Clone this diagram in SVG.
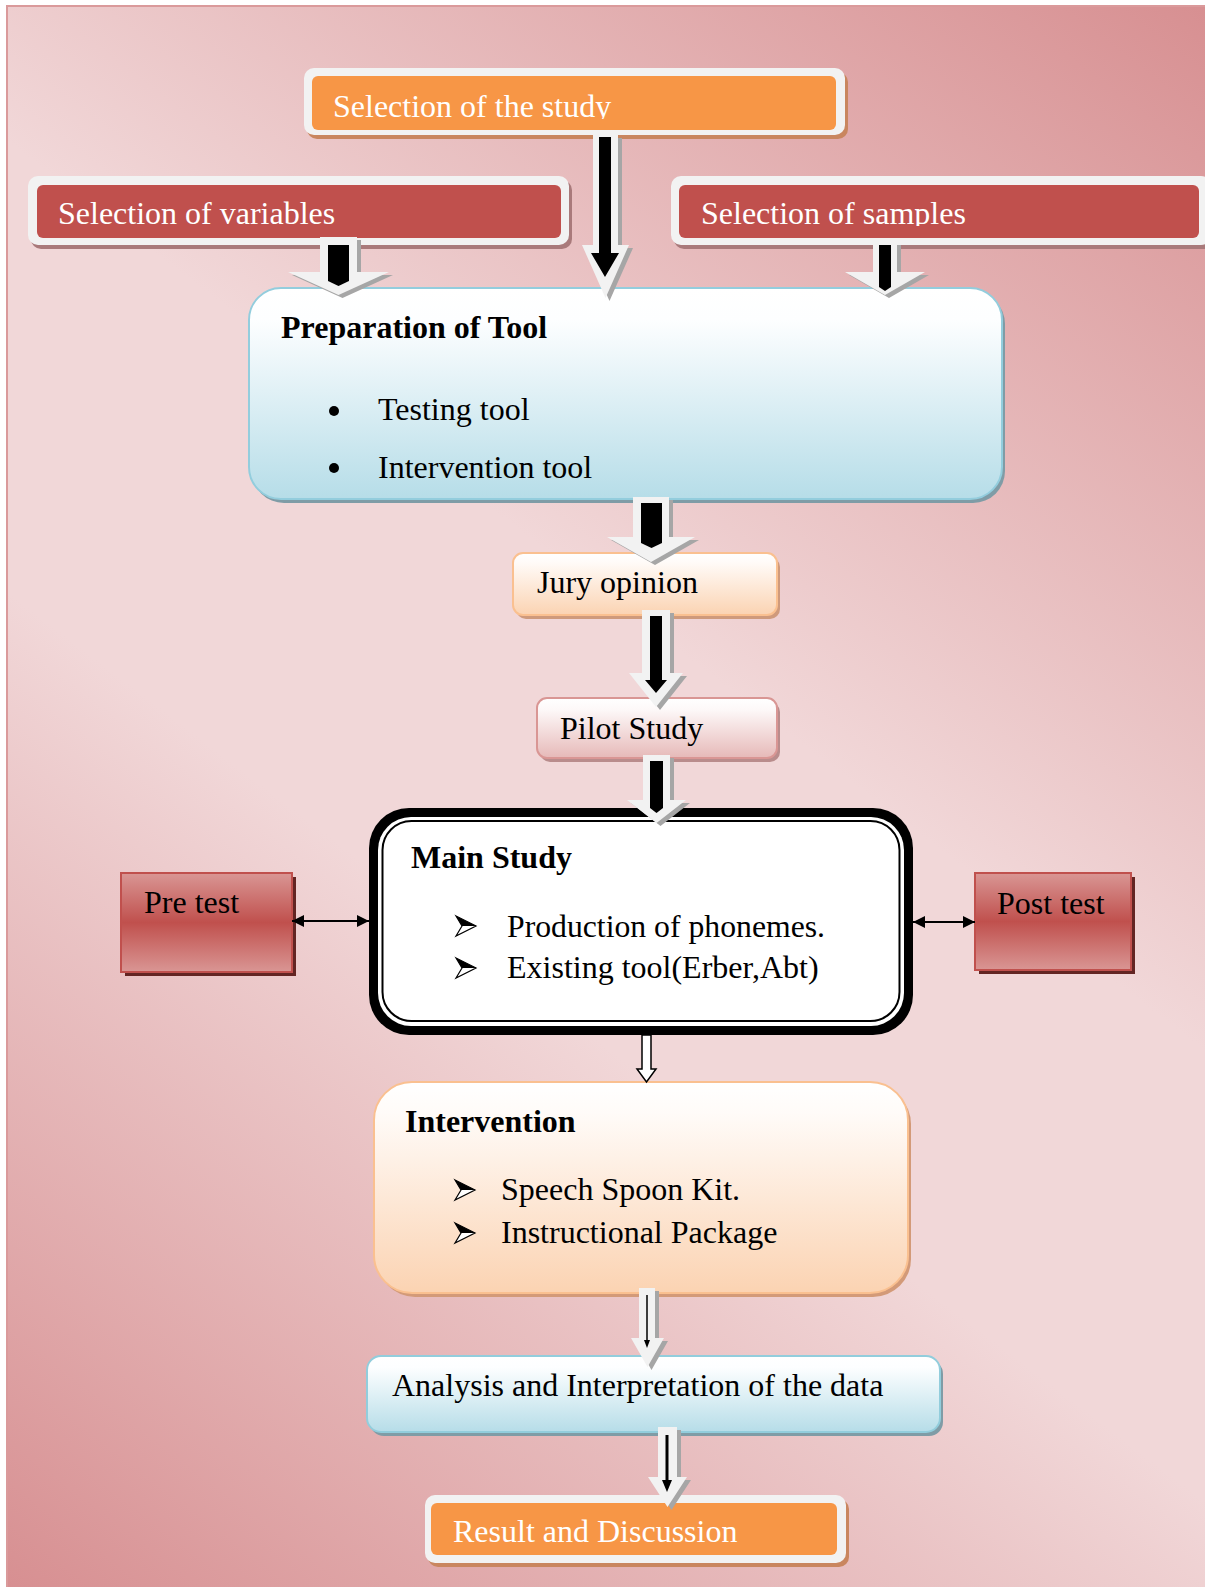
<svg xmlns="http://www.w3.org/2000/svg" width="1205" height="1587" viewBox="0 0 1205 1587">
<defs>
<linearGradient id="bg" gradientUnits="userSpaceOnUse" x1="1205" y1="0" x2="0" y2="1587">
<stop offset="0" stop-color="#d78f91"/>
<stop offset="0.42" stop-color="#f1d7d8"/>
<stop offset="0.6" stop-color="#f1d7d8"/>
<stop offset="1" stop-color="#d78f91"/>
</linearGradient>
<linearGradient id="blue" x1="0" y1="0" x2="0" y2="1">
<stop offset="0" stop-color="#ffffff"/>
<stop offset="0.15" stop-color="#fdfeff"/>
<stop offset="1" stop-color="#b6dde8"/>
</linearGradient>
<linearGradient id="peach" x1="0" y1="0" x2="0" y2="1">
<stop offset="0" stop-color="#ffffff"/>
<stop offset="0.15" stop-color="#fffbf8"/>
<stop offset="1" stop-color="#fbd3b2"/>
</linearGradient>
<linearGradient id="pink" x1="0" y1="0" x2="0" y2="1">
<stop offset="0" stop-color="#ffffff"/>
<stop offset="0.2" stop-color="#fdf8f8"/>
<stop offset="1" stop-color="#e6b9b8"/>
</linearGradient>
<linearGradient id="red" x1="0" y1="0" x2="0" y2="1">
<stop offset="0" stop-color="#d99694"/>
<stop offset="0.5" stop-color="#c0504d"/>
<stop offset="1" stop-color="#d99694"/>
</linearGradient>
<marker id="ah" viewBox="0 0 12 12" refX="12" refY="6" markerWidth="12" markerHeight="12" markerUnits="userSpaceOnUse" orient="auto-start-reverse">
<path d="M0,0 L12,6 L0,12 Z" fill="#000"/>
</marker>
<clipPath id="clipStudy"><rect x="300" y="60" width="560" height="59"/></clipPath>
<clipPath id="clipSamples"><rect x="670" y="170" width="540" height="56"/></clipPath>
<symbol id="bullet" viewBox="0 0 20 20" overflow="visible">
<path d="M0,0 L20,10 L0,20 L6,10 Z" fill="#fff" stroke="#000" stroke-width="1.2" stroke-linejoin="miter"/>
<path d="M0,0 L20,10 L6,10 Z" fill="#000"/>
</symbol>
</defs>
<style>
.t{font-family:"Liberation Serif","Times New Roman",serif;font-size:32px;fill:#000}
.w{fill:#fff}
.b{font-weight:bold}
.frame{fill:#f2f2f2}
.arw{fill:#f2f2f2}
.ash{fill:#a6a6a6}
.blk{fill:#000}
</style>

<rect x="0" y="0" width="1205" height="1587" fill="#ffffff"/>
<rect x="7" y="6" width="1200" height="1585" fill="url(#bg)" stroke="#da9a9b" stroke-width="2"/>

<g id="node-study">
<rect x="307" y="72" width="541" height="67" rx="10" fill="#c9865f"/>
<rect class="frame" x="304" y="68" width="541" height="67" rx="10"/>
<rect x="312" y="76" width="524" height="54" rx="6" fill="#f79646"/>
<text class="t w" x="333" y="117" clip-path="url(#clipStudy)">Selection of the study</text>
</g>

<g id="node-variables">
<rect x="31" y="180" width="541" height="69" rx="10" fill="#a97a7b"/>
<rect class="frame" x="28" y="176" width="541" height="69" rx="10"/>
<rect x="37" y="185" width="524" height="53" rx="6" fill="#c0504d"/>
<text class="t w" x="58" y="224">Selection of variables</text>
</g>

<g id="node-samples">
<rect x="674" y="180" width="540" height="69" rx="10" fill="#a97a7b"/>
<rect class="frame" x="671" y="176" width="540" height="69" rx="10"/>
<rect x="679" y="185" width="520" height="53" rx="6" fill="#c0504d"/>
<text class="t w" x="701" y="224" clip-path="url(#clipSamples)">Selection of samples</text>
</g>

<g id="node-preparation">
<rect x="252" y="292" width="753" height="211" rx="32" fill="#7f9ca6"/>
<rect x="249" y="288" width="753" height="211" rx="32" fill="url(#blue)" stroke="#93cddd" stroke-width="2"/>
<text class="t b" x="281" y="338">Preparation of Tool</text>
<circle cx="334" cy="411" r="5"/>
<text class="t" x="378" y="420">Testing tool</text>
<circle cx="334" cy="468" r="5"/>
<text class="t" x="378" y="478">Intervention tool</text>
</g>

<g id="node-jury">
<rect x="516" y="557" width="264" height="62" rx="10" fill="#cf9a7c"/>
<rect x="513" y="553" width="264" height="62" rx="10" fill="url(#peach)" stroke="#fac090" stroke-width="2"/>
<text class="t" x="537" y="593">Jury opinion</text>
</g>

<g id="node-pilot">
<rect x="540" y="702" width="240" height="60" rx="10" fill="#b98c8c"/>
<rect x="537" y="698" width="240" height="60" rx="10" fill="url(#pink)" stroke="#d99694" stroke-width="2"/>
<text class="t" x="560" y="739">Pilot Study</text>
</g>

<g id="node-main">
<rect x="369" y="808" width="544" height="227" rx="40" fill="#000"/>
<rect x="378" y="817" width="526" height="209" rx="33" fill="#fff"/>
<rect x="382.5" y="821" width="517" height="200" rx="29" fill="#fff" stroke="#000" stroke-width="2"/>
<text class="t b" x="411" y="868">Main Study</text>
<use href="#bullet" x="456" y="916" width="20" height="20"/>
<text class="t" x="507" y="937" textLength="318" lengthAdjust="spacingAndGlyphs">Production of phonemes.</text>
<use href="#bullet" x="456" y="958" width="20" height="20"/>
<text class="t" x="507" y="978">Existing tool(Erber,Abt)</text>
</g>

<g id="node-pretest">
<rect x="125" y="877" width="171" height="99" fill="#632523"/>
<rect x="121" y="873" width="171" height="99" fill="url(#red)" stroke="#c0504d" stroke-width="2"/>
<text class="t" x="144" y="913">Pre test</text>
</g>

<g id="node-posttest">
<rect x="979" y="877" width="156" height="97" fill="#632523"/>
<rect x="975" y="873" width="156" height="97" fill="url(#red)" stroke="#c0504d" stroke-width="2"/>
<text class="t" x="997" y="914">Post test</text>
</g>

<g id="node-intervention">
<rect x="377" y="1086" width="534" height="211" rx="38" fill="#d39a78"/>
<rect x="374" y="1082" width="534" height="211" rx="38" fill="url(#peach)" stroke="#fac090" stroke-width="2"/>
<text class="t b" x="405" y="1132">Intervention</text>
<use href="#bullet" x="455" y="1180" width="20" height="20"/>
<text class="t" x="501" y="1200">Speech Spoon Kit.</text>
<use href="#bullet" x="455" y="1223" width="20" height="20"/>
<text class="t" x="501" y="1243">Instructional Package</text>
</g>

<g id="node-analysis">
<rect x="370" y="1360" width="573" height="76" rx="14" fill="#7f9ca6"/>
<rect x="367" y="1356" width="573" height="76" rx="14" fill="url(#blue)" stroke="#92cddc" stroke-width="2"/>
<text class="t" x="392" y="1396">Analysis and Interpretation of the data</text>
</g>

<g id="node-result">
<rect x="428" y="1499" width="421" height="68" rx="10" fill="#c9865f"/>
<rect class="frame" x="425" y="1495" width="421" height="68" rx="10"/>
<rect x="431" y="1503" width="406" height="52" rx="6" fill="#f79646"/>
<text class="t w" x="453" y="1542">Result and Discussion</text>
</g>

<g id="connectors">
<!-- study to prep -->
<polygon class="ash" transform="translate(4,3)" points="593,135 618,135 618,245 629,245 605.5,298 582,245 593,245"/>
<polygon class="arw" points="593,135 618,135 618,245 629,245 605.5,298 582,245 593,245"/>
<polygon class="blk" points="599,137 611,137 611,253 619,253 605,277 591,253 599,253"/>
<!-- variables to prep -->
<polygon class="ash" transform="translate(4,3)" points="320,237 357,237 357,272 389,272 338.5,295 288,272 320,272"/>
<polygon class="arw" points="320,237 357,237 357,272 389,272 338.5,295 288,272 320,272"/>
<polygon class="blk" points="328,245 349,245 349,281 338.5,286 328,281"/>
<!-- samples to prep -->
<polygon class="ash" transform="translate(4,3)" points="873,242 897,242 897,272 925,272 885,295 845,272 873,272"/>
<polygon class="arw" points="873,242 897,242 897,272 925,272 885,295 845,272 873,272"/>
<polygon class="blk" points="879,245 891,245 891,287 885,291 879,287"/>
<!-- prep to jury -->
<polygon class="ash" transform="translate(4,3)" points="633,497 669,497 669,537 695,537 651,562 607,537 633,537"/>
<polygon class="arw" points="633,497 669,497 669,537 695,537 651,562 607,537 633,537"/>
<polygon class="blk" points="641,503 662,503 662,543 651.5,548 641,543"/>
<!-- jury to pilot -->
<polygon class="ash" transform="translate(4,3)" points="642,610 670,610 670,673 683,673 656,707 629,673 642,673"/>
<polygon class="arw" points="642,610 670,610 670,673 683,673 656,707 629,673 642,673"/>
<polygon class="blk" points="650,616 662,616 662,680 667,680 656,693 645,680 650,680"/>
<!-- pilot to main -->
<polygon class="ash" transform="translate(4,3)" points="643,755 670,755 670,800 686,800 656.5,823 627,800 643,800"/>
<polygon class="arw" points="643,755 670,755 670,800 686,800 656.5,823 627,800 643,800"/>
<polygon class="blk" points="650,761 663,761 663,808 656.5,813 650,808"/>
<!-- main to intervention -->
<polygon points="642,1035 651,1035 651,1069 656,1069 646.5,1082 637,1069 642,1069" fill="#fff" stroke="#000" stroke-width="1.5"/>
<!-- intervention to analysis -->
<polygon class="ash" transform="translate(4,3)" points="639,1288 655,1288 655,1338 664,1338 647.5,1367 631,1338 639,1338"/>
<polygon class="arw" points="639,1288 655,1288 655,1338 664,1338 647.5,1367 631,1338 639,1338"/>
<line x1="647" y1="1295" x2="647" y2="1341" stroke="#000" stroke-width="1.5"/>
<polygon class="blk" points="644,1340 650,1340 647,1348"/>
<!-- analysis to result -->
<polygon class="ash" transform="translate(4,3)" points="658,1427 677,1427 677,1477 687,1477 667.5,1507 648,1477 658,1477"/>
<polygon class="arw" points="658,1427 677,1427 677,1477 687,1477 667.5,1507 648,1477 658,1477"/>
<line x1="667" y1="1435" x2="667" y2="1482" stroke="#000" stroke-width="3"/>
<polygon class="blk" points="662,1480 672,1480 667,1492"/>
<!-- pre/post double arrows -->
<line x1="292" y1="921" x2="369" y2="921" stroke="#000" stroke-width="2" marker-start="url(#ah)" marker-end="url(#ah)"/>
<line x1="913" y1="922" x2="975" y2="922" stroke="#000" stroke-width="2" marker-start="url(#ah)" marker-end="url(#ah)"/>
</g>
</svg>
